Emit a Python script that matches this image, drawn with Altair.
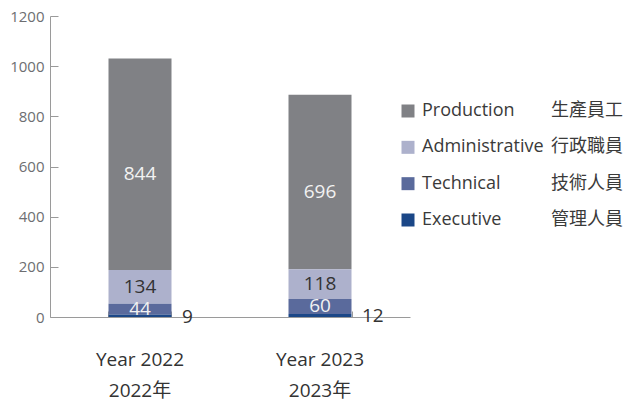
import altair as alt
import pandas as pd

years = ["Year 2022", "Year 2023"]
years_zh = ["2022年", "2023年"]
series = ["Production", "Administrative", "Technical", "Executive"]
series_zh = ["生產員工", "行政職員", "技術人員", "管理人員"]
colors = ["#808185", "#adb1cc", "#5a6a9c", "#1b4787"]
production = [844, 696]
administrative = [134, 118]
technical = [44, 60]
executive = [9, 12]
y_ticks = [0, 200, 400, 600, 800, 1000, 1200]

values = {"Production": production, "Administrative": administrative,
          "Technical": technical, "Executive": executive}
stack_rank = {"Executive": 0, "Technical": 1, "Administrative": 2, "Production": 3}
rows = []
for s in series:
    for i, y in enumerate(years):
        rows.append({"year": y, "series": s, "value": values[s][i], "rank": stack_rank[s]})
df = pd.DataFrame(rows)
legend_df = pd.DataFrame({"series": series, "zh": series_zh})

FONT = "Open Sans, Noto Sans CJK TC, sans-serif"
W, H = 360, 301
DARK = "#333333"
LIGHT = "#f2f2f2"
AXIS = "#9a9a9a"

label_expr = " : ".join(
    [f"datum.value == '{y}' ? ['{y}', '{z}']" for y, z in zip(years, years_zh)]
) + " : datum.value"

xscale = alt.Scale(domain=years, paddingInner=0.65, paddingOuter=0.325)
yscale = alt.Scale(domain=[0, 1200])
cscale = alt.Scale(domain=series, range=colors)

base = alt.Chart(df)

bars = base.mark_bar().encode(
    x=alt.X("year:N", scale=xscale, sort=years,
            axis=alt.Axis(orient="bottom", title=None, domain=False, ticks=False,
                          labelAngle=0, labelExpr=label_expr, labelFontSize=19,
                          labelColor=DARK, labelPadding=33, labelLineHeight=31,
                          labelFont=FONT)),
    y=alt.Y("sum(value):Q", scale=yscale, stack="zero",
            axis=alt.Axis(orient="left", title=None, values=y_ticks, ticks=False,
                          format="d",
                          grid=False, domainColor=AXIS, labelColor="#6d6e71",
                          labelFontSize=15, labelPadding=6, labelFont=FONT)),
    color=alt.Color("series:N", scale=cscale, legend=None),
    order=alt.Order("rank:Q", sort="ascending"),
)

stacked = base.transform_stack(
    stack="value", groupby=["year"], as_=["y0", "y1"],
    sort=[alt.SortField("rank", order="ascending")]
).transform_calculate(mid="(datum.y0 + datum.y1) / 2")

prod_text = stacked.transform_filter("datum.series == 'Production'").mark_text(
    font=FONT, fontSize=19, color=LIGHT, baseline="middle", dy=10
).encode(
    x=alt.X("year:N", scale=xscale, sort=years,
            axis=alt.Axis(orient="top", offset=-H, title=None, labels=False,
                          domain=True, ticks=True, tickBand="extent", tickSize=6,
                          domainColor=AXIS, tickColor=AXIS)),
    y=alt.Y("mid:Q", scale=yscale,
            axis=alt.Axis(orient="right", offset=-W, title=None, labels=False,
                          domain=False, ticks=True, tickSize=8, tickColor=AXIS,
                          values=y_ticks, grid=False)),
    text="value:Q",
)

mid_text = stacked.transform_filter(
    "datum.series == 'Administrative' || datum.series == 'Technical'"
).mark_text(font=FONT, fontSize=19, baseline="middle").encode(
    x=alt.X("year:N", scale=xscale, sort=years, axis=None),
    y=alt.Y("mid:Q", scale=yscale, axis=None),
    text="value:Q",
    color=alt.condition("datum.series == 'Administrative'", alt.value(DARK), alt.value(LIGHT)),
)

exec_text = stacked.transform_filter("datum.series == 'Executive'").mark_text(
    font=FONT, fontSize=19, color=DARK, baseline="middle", align="left", dx=42, dy=2
).encode(
    x=alt.X("year:N", scale=xscale, sort=years, axis=None),
    y=alt.Y("y1:Q", scale=yscale, axis=None),
    text="value:Q",
)

lscale = alt.Scale(domain=series, range=[95, 204], padding=0)
legend_base = alt.Chart(legend_df)
leg_sq = legend_base.mark_square(size=169, opacity=1).encode(
    x=alt.value(358),
    y=alt.Y("series:N", scale=lscale, axis=None),
    color=alt.Color("series:N", scale=cscale, legend=None),
)
leg_en = legend_base.mark_text(font=FONT, fontSize=18, color="#3a3a3a",
                               align="left", baseline="middle").encode(
    x=alt.value(372),
    y=alt.Y("series:N", scale=lscale, axis=None),
    text="series:N",
)
leg_zh = legend_base.mark_text(font="Noto Sans CJK TC", fontSize=18, color="#3a3a3a",
                               align="left", baseline="middle").encode(
    x=alt.value(501),
    y=alt.Y("series:N", scale=lscale, axis=None),
    text="zh:N",
)

chart = alt.layer(bars, prod_text, mid_text, exec_text, leg_sq, leg_en, leg_zh).resolve_scale(
    y="independent"
).resolve_axis(x="independent", y="independent").properties(
    width=W, height=H,
    autosize=alt.AutoSizeParams(type="none"),
    padding={"left": 42, "top": 8, "right": 213, "bottom": 82},
).configure_view(stroke=None)

chart.save("out.html", embed_options={"renderer": "svg", "actions": False})
